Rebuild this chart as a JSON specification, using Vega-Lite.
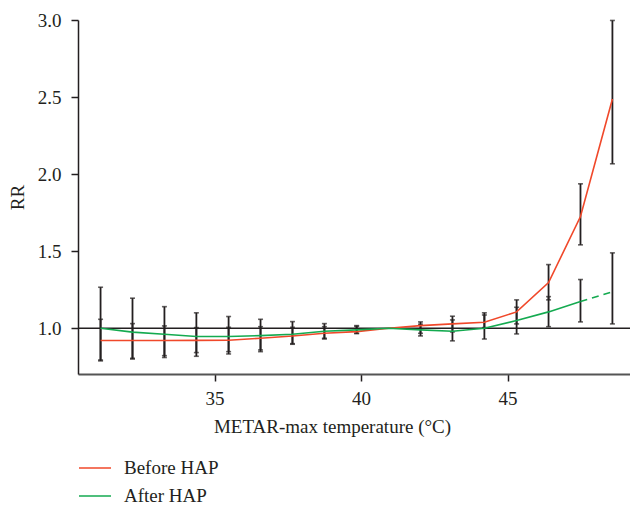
{
  "$schema": "https://vega.github.io/schema/vega-lite/v6.json",
  "autosize": "none",
  "width": 552,
  "height": 354,
  "padding": {"left": 78, "top": 20, "right": 0, "bottom": 132},
  "background": "white",
  "config": {
    "view": {"stroke": null},
    "font": "Liberation Serif",
    "axis": {
      "labelFont": "Liberation Serif",
      "titleFont": "Liberation Serif",
      "labelFontSize": 19,
      "titleFontSize": 19,
      "titleFontWeight": "normal",
      "labelColor": "#231f20",
      "titleColor": "#231f20",
      "grid": false,
      "tickSize": 7,
      "tickWidth": 1.5,
      "domainWidth": 1.5
    },
    "legend": {
      "labelFont": "Liberation Serif",
      "labelFontSize": 19,
      "labelColor": "#231f20"
    }
  },
  "data": {
    "values": [
      {"T": 31.11, "series": "Before HAP", "rr": 0.92, "lo": 0.794, "hi": 1.266},
      {"T": 32.20, "series": "Before HAP", "rr": 0.92, "lo": 0.80, "hi": 1.195},
      {"T": 33.29, "series": "Before HAP", "rr": 0.92, "lo": 0.81, "hi": 1.14},
      {"T": 34.38, "series": "Before HAP", "rr": 0.921, "lo": 0.818, "hi": 1.10},
      {"T": 35.48, "series": "Before HAP", "rr": 0.922, "lo": 0.833, "hi": 1.076},
      {"T": 36.57, "series": "Before HAP", "rr": 0.935, "lo": 0.848, "hi": 1.058},
      {"T": 37.66, "series": "Before HAP", "rr": 0.95, "lo": 0.896, "hi": 1.043},
      {"T": 38.75, "series": "Before HAP", "rr": 0.967, "lo": 0.93, "hi": 1.03},
      {"T": 39.85, "series": "Before HAP", "rr": 0.978, "lo": 0.965, "hi": 1.017},
      {"T": 40.94, "series": "Before HAP", "rr": 1.0, "lo": null, "hi": null},
      {"T": 42.03, "series": "Before HAP", "rr": 1.017, "lo": 0.967, "hi": 1.041},
      {"T": 43.12, "series": "Before HAP", "rr": 1.028, "lo": 0.976, "hi": 1.078},
      {"T": 44.21, "series": "Before HAP", "rr": 1.039, "lo": 1.004, "hi": 1.10},
      {"T": 45.31, "series": "Before HAP", "rr": 1.106, "lo": 1.028, "hi": 1.184},
      {"T": 46.40, "series": "Before HAP", "rr": 1.296, "lo": 1.184, "hi": 1.413},
      {"T": 47.49, "series": "Before HAP", "rr": 1.725, "lo": 1.541, "hi": 1.937},
      {"T": 48.58, "series": "Before HAP", "rr": 2.487, "lo": 2.067, "hi": 2.997},
      {"T": 31.11, "series": "After HAP", "rr": 1.0, "lo": 0.788, "hi": 1.058},
      {"T": 32.20, "series": "After HAP", "rr": 0.975, "lo": 0.805, "hi": 1.03},
      {"T": 33.29, "series": "After HAP", "rr": 0.961, "lo": 0.822, "hi": 1.015},
      {"T": 34.38, "series": "After HAP", "rr": 0.946, "lo": 0.842, "hi": 1.004},
      {"T": 35.48, "series": "After HAP", "rr": 0.946, "lo": 0.848, "hi": 1.006},
      {"T": 36.57, "series": "After HAP", "rr": 0.952, "lo": 0.859, "hi": 1.01},
      {"T": 37.66, "series": "After HAP", "rr": 0.961, "lo": 0.90, "hi": 1.006},
      {"T": 38.75, "series": "After HAP", "rr": 0.98, "lo": 0.935, "hi": 1.01},
      {"T": 39.85, "series": "After HAP", "rr": 0.989, "lo": 0.968, "hi": 1.012},
      {"T": 40.94, "series": "After HAP", "rr": 1.0, "lo": null, "hi": null},
      {"T": 42.03, "series": "After HAP", "rr": 0.989, "lo": 0.95, "hi": 1.026},
      {"T": 43.12, "series": "After HAP", "rr": 0.98, "lo": 0.918, "hi": 1.054},
      {"T": 44.21, "series": "After HAP", "rr": 1.0, "lo": 0.93, "hi": 1.086},
      {"T": 45.31, "series": "After HAP", "rr": 1.05, "lo": 0.963, "hi": 1.136},
      {"T": 46.40, "series": "After HAP", "rr": 1.106, "lo": 1.01, "hi": 1.205},
      {"T": 47.49, "series": "After HAP", "rr": 1.173, "lo": 1.041, "hi": 1.316},
      {"T": 48.58, "series": "After HAP", "rr": 1.236, "lo": 1.028, "hi": 1.489}
    ]
  },
  "layer": [
    {
      "transform": [{"filter": "datum.lo != null"}],
      "mark": {"type": "rule", "color": "#231f20", "strokeWidth": 1.8},
      "encoding": {
        "x": {"field": "T", "type": "quantitative", "scale": {"domain": [30.34, 49.18], "nice": false, "zero": false},
          "axis": {"values": [35, 40, 45], "title": "METAR-max temperature (°C)", "domainColor": "#555555", "domainWidth": 2, "tickColor": "#231f20", "labelPadding": 8, "titlePadding": 9, "titleX": 254, "titleAnchor": "middle"}},
        "y": {"field": "lo", "type": "quantitative", "scale": {"domain": [0.703, 3.0], "nice": false, "zero": false},
          "axis": {"values": [1.0, 1.5, 2.0, 2.5, 3.0], "format": ".1f", "title": "RR", "domainColor": "#231f20", "tickColor": "#231f20", "labelPadding": 10, "titlePadding": 10}},
        "y2": {"field": "hi"}
      }
    },
    {
      "transform": [{"filter": "datum.lo != null"}],
      "mark": {"type": "tick", "orient": "horizontal", "color": "#231f20", "size": 5, "thickness": 1.6},
      "encoding": {
        "x": {"field": "T", "type": "quantitative"},
        "y": {"field": "lo", "type": "quantitative"}
      }
    },
    {
      "transform": [{"filter": "datum.hi != null"}],
      "mark": {"type": "tick", "orient": "horizontal", "color": "#231f20", "size": 5, "thickness": 1.6},
      "encoding": {
        "x": {"field": "T", "type": "quantitative"},
        "y": {"field": "hi", "type": "quantitative"}
      }
    },
    {
      "data": {"values": [{"ref": 1.0}]},
      "mark": {"type": "rule", "color": "#231f20", "strokeWidth": 1.3},
      "encoding": {"y": {"field": "ref", "type": "quantitative"}}
    },
    {
      "transform": [{"filter": "datum.series == 'Before HAP' || datum.T < 48"}],
      "mark": {"type": "line", "strokeWidth": 1.6},
      "encoding": {
        "x": {"field": "T", "type": "quantitative"},
        "y": {"field": "rr", "type": "quantitative"},
        "color": {"field": "series", "type": "nominal",
          "scale": {"domain": ["Before HAP", "After HAP"], "range": ["#f0482a", "#14aa50"]},
          "legend": {"title": null, "orient": "none", "legendX": 0, "legendY": 431, "padding": 0, "symbolType": "stroke", "symbolSize": 1024, "symbolStrokeWidth": 1.5, "labelOffset": 12, "rowPadding": 1}}
      }
    },
    {
      "transform": [{"filter": "datum.series == 'After HAP' && datum.T > 47"}],
      "mark": {"type": "line", "strokeWidth": 1.6, "strokeDash": [7, 5], "color": "#14aa50"},
      "encoding": {
        "x": {"field": "T", "type": "quantitative"},
        "y": {"field": "rr", "type": "quantitative"}
      }
    }
  ]
}
